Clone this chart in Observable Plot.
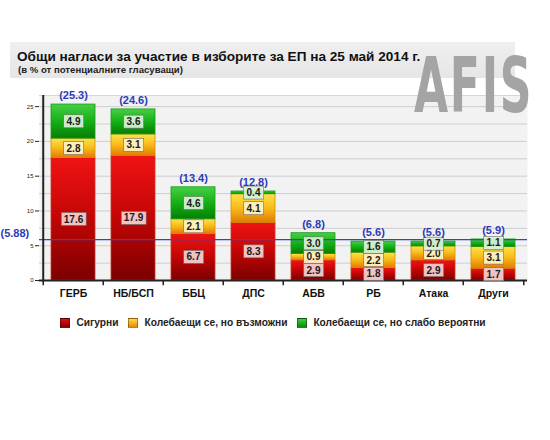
<!DOCTYPE html>
<html>
<head>
<meta charset="utf-8">
<script src="https://cdn.jsdelivr.net/npm/d3@7"></script>
<script src="https://cdn.jsdelivr.net/npm/@observablehq/plot@0.6"></script>
<style>
  html, body { margin: 0; padding: 0; background: #fff; }
  body { width: 550px; height: 440px; position: relative; overflow: hidden; font-family: "Liberation Sans", Arial, sans-serif; }
  #band { position: absolute; left: 10px; top: 42px; width: 505px; height: 36px; background: linear-gradient(#efefef, #e6e6e6); }
  #title { position: absolute; left: 17px; top: 49px; font-size: 13.6px; font-weight: bold; color: #111; white-space: nowrap; z-index: 3; }
  #subtitle { position: absolute; left: 18px; top: 64px; font-size: 9.6px; font-weight: bold; color: #222; white-space: nowrap; z-index: 3; }
  #logo { position: absolute; left: 414px; top: 48px; z-index: 2; font-family: "DejaVu Sans", sans-serif; font-weight: bold; font-size: 76px; color: #a4a4a4; transform-origin: 0 0; transform: scaleX(0.58); letter-spacing: 3px; line-height: 1; }
  #chart { position: absolute; left: 0; top: 88px; z-index: 1; }
  #legend { position: absolute; left: 0; top: 317px; width: 550px; display: flex; justify-content: center; gap: 10px; font-size: 10.2px; font-weight: bold; color: #222; margin-left: -2px; }
  #legend span.item { display: flex; align-items: center; gap: 6px; white-space: nowrap; }
  #legend i { display: inline-block; width: 8px; height: 8px; border: 1px solid rgba(0,0,0,0.35); }
</style>
</head>
<body>
<div id="band"></div>
<div id="chart"></div>
<div id="logo">AFIS</div>
<div id="title">Общи нагласи за участие в изборите за ЕП на 25 май 2014 г.</div>
<div id="subtitle">(в % от потенциалните гласуващи)</div>
<div id="legend"></div>
<script>
// ---- data ----
const categories = ["ГЕРБ", "НБ/БСП", "ББЦ", "ДПС", "АБВ", "РБ", "Атака", "Други"];
const sure       = [17.6, 17.9, 6.7, 8.3, 2.9, 1.8, 2.9, 1.7];
const possible   = [2.8, 3.1, 2.1, 4.1, 0.9, 2.2, 2.0, 3.1];
const unlikely   = [4.9, 3.6, 4.6, 0.4, 3.0, 1.6, 0.7, 1.1];
const totals     = [25.3, 24.6, 13.4, 12.8, 6.8, 5.6, 5.6, 5.9];
const seriesNames = ["Сигурни", "Колебаещи се, но възможни", "Колебаещи се, но слабо вероятни"];
const threshold = 5.88;
const yTicks = [0, 5, 10, 15, 20, 25];
const gridTicks = [2.5, 5, 7.5, 10, 12.5, 15, 17.5, 20, 22.5, 25];

// ---- build table ----
const seriesValues = [sure, possible, unlikely];
const rows = [];
categories.forEach((party, i) => {
  let lo = 0;
  seriesValues.forEach((vals, s) => {
    const v = vals[i];
    rows.push({party, series: s, value: v, lo, hi: lo + v, mid: lo + v / 2});
    lo += v;
  });
});
const totalRows = categories.map((party, i) => ({party, total: totals[i]}));

// ---- layout ----
const W = 550, H = 230, mL = 39, mR = 23, mT = 7, mB = 38;
const pI = 0.26, pO = 0.16;
const yMax = 26.6;
const step = (W - mL - mR) / (categories.length - pI + 2 * pO);
const half = step / 2;

const fills = ["url(#gRed)", "url(#gYel)", "url(#gGrn)"];
const strokes = ["#c83a2a", "#d89000", "#1a9a1a"];
const boxFills = ["#f6d2d2", "#fff2c6", "#d8f2d8"];

const marks = [
  Plot.frame({fill: "#f2f2f2", stroke: null}),
  Plot.ruleY(gridTicks, {stroke: "#cdcdcd", strokeWidth: 1}),
  Plot.ruleY([yMax], {stroke: "#d6d6d6"}),
];
[0, 1, 2].forEach(s => {
  marks.push(Plot.barY(rows.filter(r => r.series === s), {
    x: "party", y1: "lo", y2: "hi", fill: fills[s], stroke: strokes[s], strokeWidth: 0.8
  }));
});
marks.push(
  Plot.ruleY([threshold], {stroke: "#3346c8", strokeWidth: 1.2}),
  Plot.text([threshold], {y: d => d, frameAnchor: "left", dx: -39, dy: -6, textAnchor: "start",
    text: d => `(${d.toFixed(2)})`, fill: "#2b3bb8", fontWeight: "bold", fontSize: 11}),
  Plot.ruleY([0], {stroke: "#222", strokeWidth: 2}),
  Plot.ruleX([categories[0]], {x: d => d, dx: -half, y1: -0.2, y2: yMax, stroke: "#222", strokeWidth: 2}),
  Plot.ruleX(categories, {x: d => d, dx: -half, y1: 0, y2: -0.75, stroke: "#222", strokeWidth: 1.5}),
  Plot.ruleX([categories[categories.length - 1]], {x: d => d, dx: half, y1: 0, y2: -0.75, stroke: "#222", strokeWidth: 1.5}),
  Plot.axisY({ticks: yTicks, tickSize: 4, tickPadding: 2, fontSize: 6, tickFormat: d => d, stroke: "#222", fill: "#222"}),
  Plot.axisX({tickSize: 0, tickPadding: 9, fontSize: 10.5, fontWeight: "bold", fill: "#111"})
);
[0, 1, 2].forEach(s => {
  marks.push(Plot.text(rows.filter(r => r.series === s), {
    x: "party", y: "mid", text: d => d.value.toFixed(1), fontSize: 10, fontWeight: "bold",
    fill: "#1a1a1a", className: "seglab-" + s
  }));
});
marks.push(Plot.text(totalRows, {x: "party", y: "total", dy: -9, text: d => `(${d.total.toFixed(1)})`,
  fill: "#2b3bb8", fontWeight: "bold", fontSize: 11}));

const chart = Plot.plot({
  width: W, height: H, marginLeft: mL, marginRight: mR, marginTop: mT, marginBottom: mB,
  style: {fontFamily: "'Liberation Sans', Arial, sans-serif", background: "transparent", overflow: "visible"},
  x: {type: "band", domain: categories, paddingInner: pI, paddingOuter: pO, axis: null, label: null},
  y: {domain: [0, yMax], axis: null, label: null},
  marks
});

// gradients
const ns = "http://www.w3.org/2000/svg";
const defs = document.createElementNS(ns, "defs");
function grad(id, stops) {
  const g = document.createElementNS(ns, "linearGradient");
  g.setAttribute("id", id); g.setAttribute("x1", "0"); g.setAttribute("y1", "0"); g.setAttribute("x2", "0"); g.setAttribute("y2", "1");
  stops.forEach(([o, c]) => {
    const st = document.createElementNS(ns, "stop");
    st.setAttribute("offset", o); st.setAttribute("stop-color", c);
    g.appendChild(st);
  });
  defs.appendChild(g);
}
grad("gRed", [[0, "#ef1414"], [0.45, "#c80606"], [1, "#7c0000"]]);
grad("gYel", [[0, "#ffe24a"], [0.5, "#f7bb1a"], [1, "#e27c00"]]);
grad("gGrn", [[0, "#44d044"], [0.5, "#16b016"], [1, "#067e06"]]);
chart.insertBefore(defs, chart.firstChild);

document.getElementById("chart").appendChild(chart);

// label boxes
[0, 1, 2].forEach(s => {
  chart.querySelectorAll(".seglab-" + s + " text").forEach(t => {
    const b = t.getBBox();
    const r = document.createElementNS(ns, "rect");
    const w = Math.max(b.width + 5, 20), h = 13;
    r.setAttribute("x", b.x + b.width / 2 - w / 2);
    r.setAttribute("y", b.y + b.height / 2 - h / 2);
    r.setAttribute("width", w);
    r.setAttribute("height", h);
    r.setAttribute("fill", boxFills[s]);
    r.setAttribute("fill-opacity", 0.92);
    r.setAttribute("stroke", "#6a6a6a");
    r.setAttribute("stroke-width", 0.6);
    if (t.getAttribute("transform")) r.setAttribute("transform", t.getAttribute("transform"));
    t.parentNode.insertBefore(r, t);
  });
});

// legend
const legendColors = ["linear-gradient(#e01010,#8a0000)", "linear-gradient(#ffd84a,#e88a00)", "linear-gradient(#40cc40,#0a8a0a)"];
const leg = document.getElementById("legend");
seriesNames.forEach((n, i) => {
  const it = document.createElement("span");
  it.className = "item";
  const sw = document.createElement("i");
  sw.style.background = legendColors[i];
  it.appendChild(sw);
  it.appendChild(document.createTextNode(n));
  leg.appendChild(it);
});
</script>
</body>
</html>
